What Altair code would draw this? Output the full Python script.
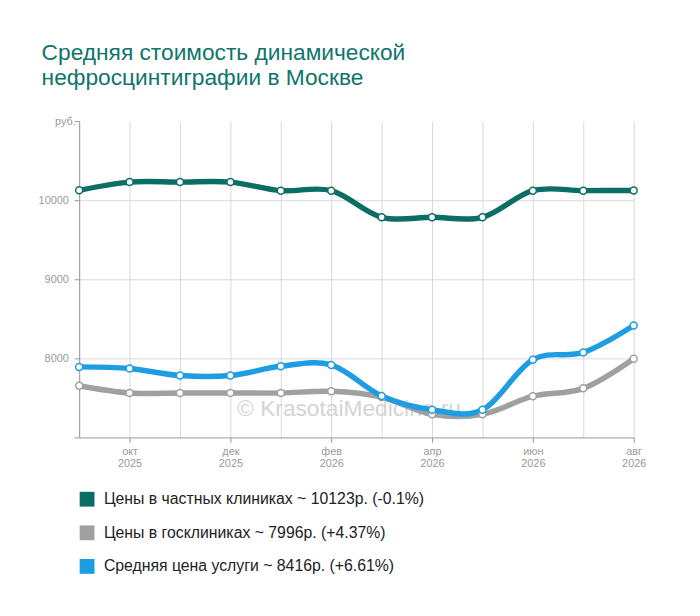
import altair as alt
import pandas as pd

months = ["сен 2025", "окт 2025", "ноя 2025", "дек 2025", "янв 2026", "фев 2026",
          "мар 2026", "апр 2026", "май 2026", "июн 2026", "июл 2026", "авг 2026"]
private = [10125, 10229, 10229, 10229, 10121, 10121, 9784, 9784, 9784, 10121, 10121, 10123]
gov = [7654, 7562, 7562, 7562, 7562, 7583, 7510, 7292, 7292, 7521, 7621, 7996]
avg = [7892, 7871, 7783, 7783, 7900, 7917, 7525, 7350, 7350, 7983, 8075, 8416]
series = ["Цены в частных клиниках ~ 10123р. (-0.1%)",
          "Цены в госклиниках ~ 7996р. (+4.37%)",
          "Средняя цена услуги ~ 8416р. (+6.61%)"]
colors = ["#0b6e64", "#a0a0a0", "#1e9de3"]
title_lines = ["Средняя стоимость динамической", "нефросцинтиграфии в Москве"]
watermark = "© KrasotaiMedicine.ru"
y_ticks = [7000, 8000, 9000, 10000, 11000]

FONT = "Liberation Sans"
GREY = "#999999"

rows = []
for name, vals in zip(series, [private, gov, avg]):
    for i, v in enumerate(vals):
        rows.append({"i": i, "m": months[i], "v": v, "s": name})
df = pd.DataFrame(rows)

labels_js = "[" + ",".join("'" + m + "'" for m in months) + "]"

x_enc = alt.X(
    "i:Q",
    scale=alt.Scale(domain=[0, len(months) - 1], nice=False, zero=False),
    axis=alt.Axis(
        title=None,
        values=list(range(len(months))),
        labelExpr=f"datum.value % 2 == 1 ? split({labels_js}[datum.value], ' ') : ''",
        labelFont=FONT, labelFontSize=11, labelColor=GREY, labelLineHeight=12,
        labelPadding=3, tickSize=5, tickColor=GREY, domainColor=GREY,
        tickOpacity={"condition": {"test": "datum.value % 2 == 1", "value": 1}, "value": 0},
        gridColor="#d9d9d9", grid=True, labelFlush=False,
    ),
)
y_enc = alt.Y(
    "v:Q",
    scale=alt.Scale(domain=[7000, 11000], nice=False, zero=False),
    axis=alt.Axis(
        title="руб.", titleAngle=0, titleAlign="right", titleBaseline="middle",
        titleX=-4, titleY=0, titleFont=FONT, titleFontSize=11, titleColor=GREY,
        titleFontWeight="normal",
        values=y_ticks, format="d",
        labelExpr="datum.value == 7000 || datum.value == 11000 ? '' : datum.label",
        labelFont=FONT, labelFontSize=11, labelColor=GREY, labelPadding=6,
        tickSize=5, tickColor=GREY, domainColor=GREY,
        gridColor="#d9d9d9",
        gridOpacity={"condition": {"test": "datum.value == 7000 || datum.value == 11000", "value": 0}, "value": 1},
    ),
)
color_scale = alt.Scale(domain=series, range=colors)

base = alt.Chart(df)

legend_layer = base.mark_square(size=0, filled=True, opacity=1).encode(
    x=x_enc, y=y_enc,
    color=alt.Color("s:N", scale=color_scale, sort=series, legend=alt.Legend(
        title=None, orient="none", legendX=0, legendY=374.5, direction="vertical",
        symbolType="square", symbolSize=225, symbolStrokeWidth=0, symbolOpacity=1,
        labelFont=FONT, labelFontSize=16, labelColor="#222222", labelOffset=9,
        rowPadding=18, padding=0, labelLimit=600,
    )),
)

wm = alt.Chart(pd.DataFrame({"t": [watermark]})).mark_text(
    font=FONT, fontSize=23, color="#d4d4d4", align="center", baseline="alphabetic"
).encode(x=alt.value(273), y=alt.value(298), text="t:N")

lines = base.mark_line(interpolate="cardinal", strokeWidth=5.5).encode(
    x=x_enc, y=y_enc,
    color=alt.Color("s:N", scale=color_scale, sort=series),
    order=alt.Order("i:Q"),
)

points = base.mark_point(shape="circle", filled=False, fill="white", fillOpacity=1,
                         opacity=1, size=50, strokeWidth=1.5).encode(
    x=x_enc, y=y_enc,
    color=alt.Color("s:N", scale=color_scale, sort=series),
)

chart = alt.layer(legend_layer, wm, lines, points).properties(
    width=561, height=320,
    title=alt.TitleParams(
        text=title_lines, anchor="start", frame="group", dx=-38, offset=26, fontSize=23,
        font=FONT, fontWeight="normal", color="#0f756a", lineHeight=25,
    ),
    autosize=alt.AutoSizeParams(type="none"),
    padding={"left": 72, "top": 111, "right": 59, "bottom": 160},
).configure_view(stroke=None)

chart.save("out.html", embed_options={"renderer": "svg", "actions": False})
